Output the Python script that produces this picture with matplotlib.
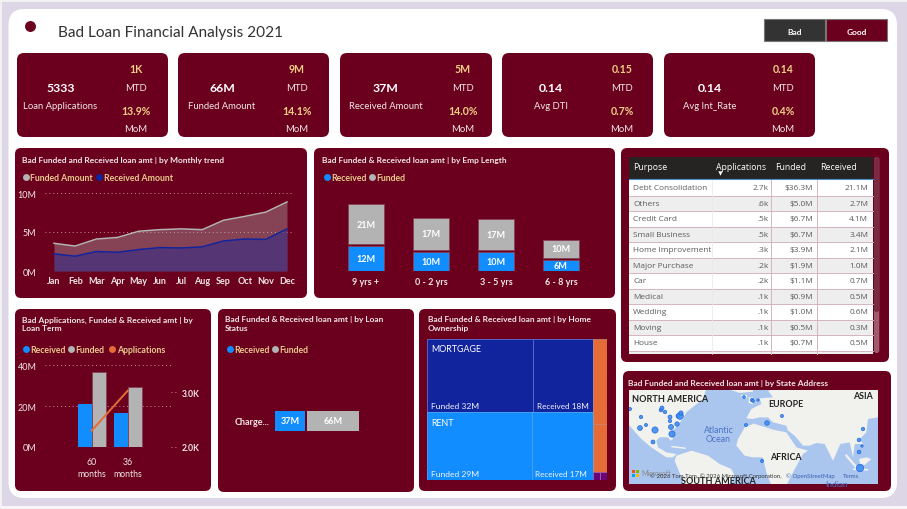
import matplotlib
matplotlib.use("Agg")
import matplotlib.pyplot as plt
from matplotlib.patches import FancyBboxPatch, Rectangle, Polygon

plt.rcParams['font.family'] = ['Lato', 'DejaVu Sans']

W, H = 907, 510
MAROON = '#6B001E'
BLUE = '#118DFF'
NAVY = '#12239E'
GREY = '#B3B3B3'
ORANGE = '#E66C37'
PURPLE = '#6B007B'
YEL = '#EFCF86'
TXT = '#EFE6E8'
LEG = '#E8C98C'
EDGE = '#8A4058'
TABLE_FONT = ['Open Sans', 'DejaVu Sans']

# ---------- data ----------
title = 'Bad Loan Financial Analysis 2021'
kpi_names = ['Loan Applications', 'Funded Amount', 'Received Amount', 'Avg DTI', 'Avg Int_Rate']
kpi_total = ['5333', '66M', '37M', '0.14', '0.14']
kpi_mtd = ['1K', '9M', '5M', '0.15', '0.14']
kpi_mom = ['13.9%', '14.1%', '14.0%', '0.7%', '0.4%']

months = ['Jan', 'Feb', 'Mar', 'Apr', 'May', 'Jun', 'Jul', 'Aug', 'Sep', 'Oct', 'Nov', 'Dec']
funded_m = [3.55, 3.2, 4.1, 4.3, 5.1, 5.3, 5.4, 5.3, 6.5, 7.0, 7.55, 8.85]
received_m = [2.2, 1.9, 2.5, 2.4, 2.75, 3.0, 2.95, 3.1, 3.85, 4.1, 4.05, 5.4]

emp_cats = ['9 yrs +', '0 - 2 yrs', '3 - 5 yrs', '6 - 8 yrs']
emp_received = [12.5, 9.7, 9.5, 5.8]
emp_funded = [20.4, 16.3, 16.0, 9.0]
emp_rec_lab = ['12M', '10M', '10M', '6M']
emp_fun_lab = ['21M', '17M', '17M', '10M']

purposes = ['Debt Consolidation', 'Others', 'Credit Card', 'Small Business', 'Home Improvement',
            'Major Purchase', 'Car', 'Medical', 'Wedding', 'Moving', 'House']
purpose_apps = ['2.7k', '.6k', '.5k', '.5k', '.3k', '.2k', '.2k', '.1k', '.1k', '.1k', '.1k']
purpose_funded = ['$36.3M', '$5.0M', '$6.7M', '$6.7M', '$3.9M', '$1.9M', '$1.1M', '$0.9M', '$1.0M', '$0.5M', '$0.7M']
purpose_received = ['21.1M', '2.7M', '4.1M', '3.4M', '2.1M', '1.0M', '0.7M', '0.5M', '0.6M', '0.3M', '0.5M']

term_cats = ['60\nmonths', '36\nmonths']
term_received = [20.9, 16.7]
term_funded = [36.9, 29.2]
term_apps = [2.3, 3.03]

status_received = 37
status_funded = 66

home_main = {'MORTGAGE': (32, 18), 'RENT': (29, 17)}
home_own = (4.7, 2.65)
home_other = (0.22, 0.22)

map_dots = [(630, 410, 5), (641, 418, 6), (646, 426, 5), (640, 429, 12), (655, 431, 20), (653, 443, 8),
            (661, 411, 7), (662, 409, 8), (665, 413, 6), (670, 418, 8), (670, 422, 6), (671, 428, 13),
            (672, 435, 20), (677, 425, 10), (678, 417, 8), (680, 417, 24), (681, 414, 9),
            (744, 398, 4), (752, 401, 6), (746, 426, 5), (753, 402, 4), (758, 401, 3), (767, 424, 11),
            (782, 417, 5), (762, 462, 5), (863, 430, 6), (859, 441, 7), (862, 447, 3), (859, 453, 7), (860, 469, 28)]

# ---------- canvas ----------
fig = plt.figure(figsize=(W / 100, H / 100), dpi=100, facecolor='#DCD6E6')
bg = fig.add_axes([0, 0, 1, 1])
bg.set_xlim(0, W)
bg.set_ylim(H, 0)
bg.axis('off')


def rbox(x0, y0, x1, y1, r, fc, ec='none', lw=0, z=1, ax=bg):
    p = FancyBboxPatch((x0 + r, y0 + r), x1 - x0 - 2 * r, y1 - y0 - 2 * r,
                       boxstyle=f'round,pad={r},rounding_size={r}', fc=fc, ec=ec, lw=lw, zorder=z)
    ax.add_patch(p)
    return p


def T(x, y, s, size=6.5, color=TXT, weight='normal', ha='center', va='center', z=10, ax=bg, **kw):
    return ax.text(x, y + 0.7, s, fontsize=size, color=color, fontweight=weight, ha=ha, va=va, zorder=z, **kw)


def child(x0, y0, x1, y1):
    a = fig.add_axes([x0 / W, 1 - y1 / H, (x1 - x0) / W, (y1 - y0) / H])
    a.patch.set_alpha(0)
    for s in a.spines.values():
        s.set_visible(False)
    a.tick_params(length=0)
    return a


def legend(x, y, items):
    for px, name, col in items:
        bg.scatter([px], [y], s=25, color=col, zorder=11, lw=0)
        T(px + 5, y, name, 6.3, LEG, 'bold', ha='left')


bg.add_patch(Rectangle((0, 0), W, 2.5, fc='#F2F2F2', ec='none', zorder=0.5))
bg.add_patch(Rectangle((0, 507), W, 3, fc='#F6F6F8', ec='none', zorder=0.5))
bg.add_patch(Rectangle((0, 0), 2, H, fc='#F2F2F2', ec='none', zorder=0.5))
rbox(8.5, 10, 897, 499, 16, 'white')

bg.scatter([29.5], [27], s=62, color=MAROON, lw=0, zorder=5)
T(58, 32, title, 11.1, '#333333', ha='left')

# toggle buttons
bg.add_patch(Rectangle((764, 20), 61, 21.5, fc='#333333', ec='#777777', lw=0.8, zorder=3))
bg.add_patch(Rectangle((826, 20), 61, 21.5, fc=MAROON, ec='#777777', lw=0.8, zorder=3))
T(794.5, 31.5, 'Bad', 6, 'white', 'bold')
T(856.5, 31.5, 'Good', 6, 'white', 'bold')

# ---------- KPI cards ----------
card_x = [(17, 168), (178, 329), (340, 492), (502, 653), (664, 815)]
total_cx = [60.5, 222, 386, 551, 710]
side_cx = [136, 297, 463, 622, 783]
for i, (a, b) in enumerate(card_x):
    rbox(a, 54, b, 138, 7, MAROON)
    T(total_cx[i], 87.5, kpi_total[i], 8.8, 'white', 'bold')
    T(total_cx[i], 106, kpi_names[i], 6.8, TXT)
    T(side_cx[i], 69, kpi_mtd[i], 7.6, YEL, 'bold')
    T(side_cx[i], 87.5, 'MTD', 6.8, TXT)
    T(side_cx[i], 111, kpi_mom[i], 7.6, YEL, 'bold')
    T(side_cx[i], 129, 'MoM', 6.8, TXT)

# ---------- panels ----------
for box in [(15, 149, 307, 299), (314, 149, 615, 299), (621, 149, 889, 363), (15, 310, 211, 492),
            (218, 310, 414, 493), (419, 310, 616, 492), (623, 372, 891, 492)]:
    rbox(*box, 6, MAROON)

TS = 6.0
# ---------- monthly trend ----------
T(21.5, 160, 'Bad Funded and Received loan amt | by Monthly trend', TS, TXT, 'bold', ha='left')
legend(21, 178, [(25.5, 'Funded Amount', GREY), (98.5, 'Received Amount', NAVY)])
ax = child(45, 187, 293, 272)
xs = list(range(12))
ax.set_xlim(-9 / 21.18, 11 + 6 / 21.18)
ax.set_ylim(0, 85 / 7.8)
ax.fill_between(xs, funded_m, color=GREY, alpha=0.38, lw=0, zorder=2)
ax.fill_between(xs, received_m, color=NAVY, alpha=0.42, lw=0, zorder=3)
ax.plot(xs, funded_m, color=GREY, lw=1.1, zorder=4)
ax.plot(xs, received_m, color=NAVY, lw=1.1, zorder=5)
ax.set_yticks([0, 5, 10])
ax.set_yticklabels(['0M', '5M', '10M'], fontsize=6.5, color=TXT)
ax.set_xticks(xs)
ax.set_xticklabels(months, fontsize=6.5, color=TXT, fontweight='bold')
ax.tick_params(axis='y', pad=6)
ax.tick_params(axis='x', pad=3.5)
ax.grid(axis='y', color='#C98F9E', lw=0.7, ls=(0, (1, 3)), zorder=1)
ax.set_axisbelow(True)

# ---------- employment ----------
T(321.5, 160, 'Bad Funded & Received loan amt | by Emp Length', TS, TXT, 'bold', ha='left')
legend(322, 178, [(326.5, 'Received', BLUE), (371.5, 'Funded', GREY)])
ax = child(333.5, 195, 593.5, 272)
xs = list(range(4))
ax.set_xlim(-0.5, 3.5)
ax.set_ylim(0, 77 * 3 / 5.9)
gap = 1.0
tops = [r + gap for r in emp_received]
ax.bar(xs, emp_received, 0.543, color=BLUE, ec=EDGE, lw=0.6, zorder=3)
ax.bar(xs, emp_funded, 0.543, bottom=tops, color=GREY, ec=EDGE, lw=0.6, zorder=3)
for i in xs:
    ax.text(i, emp_received[i] / 2, emp_rec_lab[i], color='white', fontsize=6.5, fontweight='bold', ha='center', va='center', zorder=5)
    ax.text(i, tops[i] + emp_funded[i] / 2, emp_fun_lab[i], color='white', fontsize=6.5, fontweight='bold', ha='center', va='center', zorder=5)
ax.set_xticks(xs)
ax.set_xticklabels(emp_cats, fontsize=6.5, color=TXT, fontweight='bold')
ax.tick_params(axis='x', pad=4)
ax.set_yticks([])

# ---------- table ----------
tb_x0, tb_x1 = 629.3, 872.7
bg.add_patch(Rectangle((tb_x0, 158.3), tb_x1 - tb_x0, 22, fc='#252423', ec='none', zorder=3))
bg.plot([tb_x0, tb_x1], [180.3, 180.3], color='#4A90C8', lw=0.8, zorder=4)
for hx, hs in zip((633, 716, 774.7, 820.3), ('Purpose', 'Applications', 'Funded', 'Received')):
    T(hx, 167, hs, 6.3, 'white', ha='left', family=TABLE_FONT)
bg.scatter([719.5], [173.5], marker='v', s=10, color='white', lw=0, zorder=11)
row0, rh = 181, 15.5
for i, name in enumerate(purposes + ['']):
    y = row0 + i * rh
    h = rh if i < len(purposes) else 354.5 - y
    bg.add_patch(Rectangle((tb_x0, y), tb_x1 - tb_x0, h, fc='#EEEEEE' if i % 2 else 'white', ec='none', zorder=3))
    bg.plot([tb_x0, tb_x1], [y + rh, y + rh] if i < len(purposes) else [y, y], color='#D5B4BE', lw=0.7, zorder=4)
    if name:
        yc = y + rh / 2 - 0.7
        T(633.3, yc, name, 5.95, '#5A5A5A', ha='left', family=TABLE_FONT)
        T(768.3, yc, purpose_apps[i], 5.95, '#5A5A5A', ha='right', family=TABLE_FONT)
        T(813.3, yc, purpose_funded[i], 5.95, '#5A5A5A', ha='right', family=TABLE_FONT)
        T(868.3, yc, purpose_received[i], 5.95, '#5A5A5A', ha='right', family=TABLE_FONT)
for cx in (771.3, 817.3):
    bg.plot([cx, cx], [181, 354.5], color='#D5B4BE', lw=0.7, zorder=4)
bg.plot([712.3, 712.3], [181, 354.5], color='#EEE4E7', lw=0.5, zorder=4)
rbox(874, 158, 879.3, 354, 2.5, '#A05A6E', z=3)
rbox(874, 158, 879.3, 313, 2.5, '#7A2A42', z=3.1)

# ---------- loan term ----------
T(21.5, 323.5, 'Bad Applications, Funded & Received amt | by\nLoan Term', TS, TXT, 'bold', ha='left', linespacing=1.25)
legend(21, 350, [(25.5, 'Received', BLUE), (70.5, 'Funded', GREY), (112, 'Applications', ORANGE)])
ax = child(45, 356, 173, 448)
ax.set_xlim((45 - 91.7) / 36, (173 - 91.7) / 36)
ax.set_ylim(0, 92 / 2.04)
xs = [0, 1]
bw = 0.385
ax.bar([x - bw / 2 for x in xs], term_received, bw, color=BLUE, ec='none', zorder=3)
ax.bar([x + bw / 2 for x in xs], term_funded, bw, color=GREY, ec=EDGE, lw=0.6, zorder=3)
ax.set_yticks([0, 20, 40])
ax.set_yticklabels(['0M', '20M', '40M'], fontsize=6.5, color=TXT)
ax.tick_params(axis='y', pad=6)
ax.grid(axis='y', color='#C98F9E', lw=0.7, ls=(0, (1, 3)), zorder=1)
ax.set_axisbelow(True)
ax.set_xticks(xs)
ax.set_xticklabels(term_cats, fontsize=6.3, color=TXT, linespacing=1.45)
ax.tick_params(axis='x', pad=7)
ax2 = ax.twinx()
ax2.patch.set_alpha(0)
for s in ax2.spines.values():
    s.set_visible(False)
ax2.set_ylim(2.0, 2.0 + 92 / 54.67)
ax2.plot(xs, term_apps, color=ORANGE, lw=1.4, zorder=6)
ax2.set_yticks([2, 3])
ax2.set_yticklabels(['2.0K', '3.0K'], fontsize=6.2, color=TXT, fontweight='bold')
ax2.tick_params(axis='y', length=0, pad=6.5)
bg.plot([171, 176], [393, 393], color='#C98F9E', lw=0.7, ls=(0, (1, 3)), zorder=2)
bg.plot([171, 176], [448, 448], color='#C98F9E', lw=0.7, ls=(0, (1, 3)), zorder=2)

# ---------- loan status ----------
T(225, 323.5, 'Bad Funded & Received loan amt | by Loan\nStatus', TS, TXT, 'bold', ha='left', linespacing=1.25)
legend(225, 350, [(229.5, 'Received', BLUE), (274.5, 'Funded', GREY)])
ax = child(275, 360, 395, 484)
ax.set_xlim(0, 120 / 0.8)
ax.set_ylim(-0.5, 0.5)
ax.barh([0], [status_received], 20.3 / 124, color=BLUE, ec='none', zorder=3)
ax.barh([0], [status_funded], 20.3 / 124, left=[status_received + 2.6], color=GREY, ec='none', zorder=3)
ax.text(status_received / 2, 0, f'{status_received}M', color='white', fontsize=6.5, fontweight='bold', ha='center', va='center', zorder=5)
ax.text(status_received + 2.6 + status_funded / 2, 0, f'{status_funded}M', color='white', fontsize=6.5, fontweight='bold', ha='center', va='center', zorder=5)
ax.set_xticks([])
ax.set_yticks([0])
ax.set_yticklabels(['Charge...'], fontsize=6.5, color=TXT, fontweight='bold')
ax.tick_params(axis='y', pad=4)

# ---------- home ownership treemap ----------
T(427.5, 323.5, 'Bad Funded & Received loan amt | by Home\nOwnership', TS, TXT, 'bold', ha='left', linespacing=1.25)
ax = child(427.3, 340, 606.7, 480.7)
ax.axis('off')
main_total = sum(sum(v) for v in home_main.values())
own_total = sum(home_own)
other_total = sum(home_other)
grand = main_total + own_total + other_total
ax.set_xlim(0, 1)
ax.set_ylim(1, 0)
main_w = main_total / grand
y = 0
main_cols = {'MORTGAGE': NAVY, 'RENT': BLUE}
for name, (fu, re) in home_main.items():
    h = (fu + re) / main_total
    wf = main_w * fu / (fu + re)
    ec = '#5A6FD0' if name == 'MORTGAGE' else '#4AA5F5'
    ax.add_patch(Rectangle((0, y), wf, h, fc=main_cols[name], ec=ec, lw=0.6))
    ax.add_patch(Rectangle((wf, y), main_w - wf, h, fc=main_cols[name], ec=ec, lw=0.6))
    px = 3.5 / 179.4
    ax.text(px, y + 10 / 140.7, name, fontsize=6.4, color='white', va='center', ha='left')
    ax.text(px, y + h - 6.5 / 140.7, f'Funded {fu}M', fontsize=6.1, color='#F4F4FA', va='center', ha='left')
    ax.text(wf + px, y + h - 6.5 / 140.7, f'Received {re}M', fontsize=5.9, color='#F4F4FA', va='center', ha='left')
    y += h
side_w = 1 - main_w
side_h = own_total / (own_total + other_total)
ax.add_patch(Rectangle((main_w, 0), side_w, side_h * home_own[0] / own_total, fc=ORANGE, ec='#C98A78', lw=0.5))
ax.add_patch(Rectangle((main_w, side_h * home_own[0] / own_total), side_w, side_h * home_own[1] / own_total, fc=ORANGE, ec='#C98A78', lw=0.5))
w0 = side_w * home_other[0] / other_total
ax.add_patch(Rectangle((main_w, side_h), w0, 1 - side_h, fc=PURPLE, ec='#A070A8', lw=0.5))
ax.add_patch(Rectangle((main_w + w0, side_h), side_w - w0, 1 - side_h, fc=PURPLE, ec='#A070A8', lw=0.5))

# ---------- map ----------
T(628.5, 383, 'Bad Funded and Received loan amt | by State Address', TS, TXT, 'bold', ha='left')
ax = child(629, 391, 877.7, 484.7)
ax.set_xlim(629, 877.7)
ax.set_ylim(484.7, 391)
ax.set_xticks([])
ax.set_yticks([])
ax.patch.set_alpha(1)
ax.set_facecolor('#AAC6EF')
LAND = '#F1F1EE'
c10 = lambda pts: [(628 + a / 3, 390 + b / 3) for a, b in pts]
c11 = lambda pts: [(753 + a / 3, 390 + b / 3) for a, b in pts]
shapes = [
    c10([(0, 0), (235, 0), (225, 30), (200, 50), (175, 70), (165, 90), (150, 105), (140, 120), (130, 125), (135, 150),
         (128, 155), (120, 145), (95, 145), (85, 155), (90, 175), (115, 190), (145, 195), (135, 205), (115, 205),
         (70, 175), (40, 150), (0, 105)]),
    c10([(130, 170), (175, 176), (172, 180), (130, 175)]),
    c10([(145, 200), (190, 185), (240, 200), (275, 225), (310, 240), (320, 260), (300, 290), (170, 290), (150, 240), (140, 215)]),
    c10([(300, 0), (375, 0), (375, 8), (335, 12)]),
    c10([(340, 18), (358, 18), (358, 26), (342, 26)]),
    c10([(362, 25), (375, 25), (375, 45), (362, 42)]),
    c10([(375, 105), (350, 115), (330, 150), (325, 170), (350, 200), (375, 205)]) +
    c11([(30, 205), (40, 250), (55, 290), (100, 290), (120, 250), (150, 195), (165, 185), (130, 175), (100, 130), (60, 122), (0, 103)]),
    c11([(-5, 60), (25, 45), (20, 28), (60, 25), (45, 5), (70, 0), (375, 0), (375, 85), (345, 90), (340, 130), (320, 150), (330, 165),
         (305, 165), (300, 205), (290, 160), (262, 165), (240, 215), (215, 165), (190, 162), (170, 170), (150, 170), (125, 140), (105, 125),
         (100, 110), (60, 100), (45, 85), (20, 85), (0, 90), (-20, 88)]),
    c11([(280, 195), (315, 235), (308, 238), (276, 200)]),
    c11([(318, 210), (340, 205), (355, 210), (335, 228), (322, 226)]),
    c11([(300, 238), (345, 240), (345, 245), (300, 243)]),
]
for pts in shapes:
    ax.add_patch(Polygon(pts, closed=True, fc=LAND, ec='none', zorder=1))
ax.scatter([d[0] for d in map_dots], [d[1] for d in map_dots], s=[d[2] for d in map_dots],
           color='#3F8CF0', edgecolors='#1B62D8', alpha=0.9, lw=0.5, zorder=3)
lab = dict(ax=ax, z=5)
T(670, 399, 'NORTH AMERICA', 6.6, '#222222', 'bold', **lab)
T(786, 403.5, 'EUROPE', 6.4, '#222222', 'bold', **lab)
T(863, 396, 'ASIA', 6.4, '#222222', 'bold', **lab)
T(786, 457, 'AFRICA', 6.4, '#222222', 'bold', **lab)
T(718, 480.5, 'SOUTH AMERICA', 6.6, '#222222', 'bold', **lab)
T(718.5, 430, 'Atlantic', 6.3, '#4A72C4', **lab)
T(718.5, 439, 'Ocean', 6.3, '#4A72C4', **lab)
T(837, 484, 'Indian', 6, '#4A72C4', **lab)
for x0, y0, c in [(632, 471, '#F25022'), (635.7, 471, '#7FBA00'), (632, 474.7, '#00A4EF'), (635.7, 474.7, '#FFB900')]:
    ax.add_patch(Rectangle((x0, y0), 3.4, 3.4, fc=c, ec='none', zorder=5))
T(641, 473, 'Microsoft', 5, '#888888', ha='left', **lab)
T(650, 475.5, '© 2026 Tom Tom, © 2026 Microsoft Corporation,', 4.35, '#333333', ha='left', z=6, ax=ax)
T(786, 475.5, '© OpenStreetMap', 4.35, '#3A5FB0', ha='left', z=6, ax=ax)
T(843, 475.5, 'Terms', 4.35, '#3A5FB0', ha='left', z=6, ax=ax)

fig.savefig('out.png', dpi=100, facecolor=fig.get_facecolor())
